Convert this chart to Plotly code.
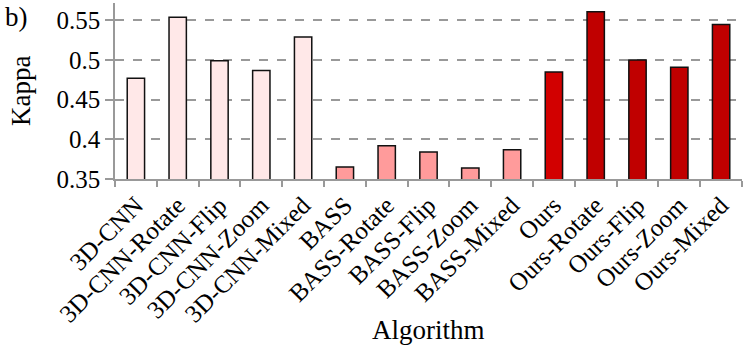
import plotly.graph_objects as go

algorithms = ["3D-CNN", "3D-CNN-Rotate", "3D-CNN-Flip", "3D-CNN-Zoom", "3D-CNN-Mixed",
              "BASS", "BASS-Rotate", "BASS-Flip", "BASS-Zoom", "BASS-Mixed",
              "Ours", "Ours-Rotate", "Ours-Flip", "Ours-Zoom", "Ours-Mixed"]
kappa = [0.477, 0.554, 0.499, 0.487, 0.529,
         0.365, 0.392, 0.384, 0.364, 0.387,
         0.485, 0.561, 0.500, 0.491, 0.545]
bar_colors = ["#ffe8e8"] * 5 + ["#ff9b9b"] * 5 + ["#d20000"] + ["#c00000"] * 4
y_ticks = [0.35, 0.4, 0.45, 0.5, 0.55]
y_tick_text = ["0.35", "0.4", "0.45", "0.5", "0.55"]

font_family = "Liberation Serif"

fig = go.Figure()
fig.add_trace(go.Bar(
    x=algorithms, y=kappa,
    marker=dict(color=bar_colors, line=dict(color="#111111", width=1.5)),
))

fig.update_layout(
    width=747, height=347,
    margin=dict(l=115, r=5, t=3, b=168),
    plot_bgcolor="white", paper_bgcolor="white",
    bargap=0.585,
    showlegend=False,
    font=dict(family=font_family, size=25, color="black"),
)

fig.update_xaxes(
    type="category",
    automargin=False,
    tickson="boundaries",
    ticks="outside", ticklen=6, tickcolor="#999999", tickwidth=1.5,
    tickangle=-45,
    showline=True, linecolor="#999999", linewidth=1.5,
    showgrid=False,
)

fig.update_yaxes(
    automargin=False,
    range=[0.35, 0.572],
    tickvals=y_ticks, ticktext=y_tick_text,
    ticksuffix="\u2005",  # small gap between labels and tick marks
    ticks="outside", ticklen=8, tickcolor="#999999", tickwidth=1.5,
    showline=True, linecolor="#999999", linewidth=1.5,
    showgrid=True, gridcolor="#999999", griddash="dash", gridwidth=1.5,
    zeroline=False,
)

# axis titles and panel label placed by hand
fig.add_annotation(text="Algorithm", xref="paper", yref="paper",
                   x=0.5, y=-0.86, xanchor="center", yanchor="middle",
                   showarrow=False, font=dict(size=27))
fig.add_annotation(text="Kappa", xref="paper", yref="paper", textangle=-90,
                   x=-0.15, y=0.5, xanchor="center", yanchor="middle",
                   showarrow=False, font=dict(size=27))
fig.add_annotation(text="b)", xref="paper", yref="paper",
                   x=-0.178, y=1.017, xanchor="left", yanchor="top",
                   showarrow=False, font=dict(size=27))

# drop the browser's default body margin so the figure sits at the page corner
fig.write_html("out.html", config={"displayModeBar": False},
               post_script="document.body.style.margin='0';")
